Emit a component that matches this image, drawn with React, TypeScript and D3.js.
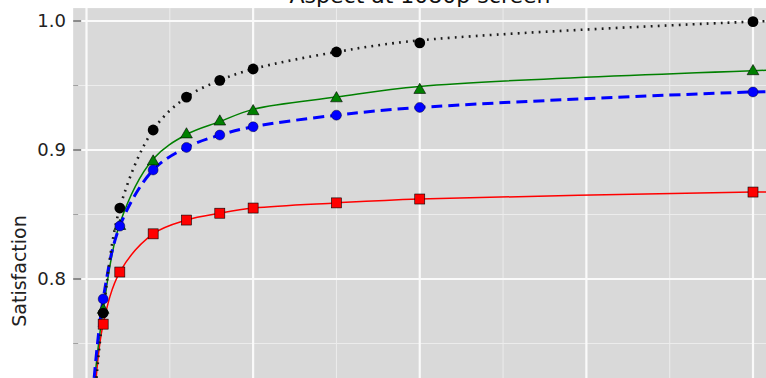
import React, { useEffect, useRef } from "react";
import * as d3 from "d3";

// sample sizes where the measurements were taken
const sizes = [50, 100, 200, 300, 400, 500, 750, 1000, 2000];

// measured satisfaction (markers)
const redValues = [0.765, 0.8054, 0.835, 0.8457, 0.851, 0.855, 0.859, 0.862, 0.8674];
const greenValues = [0.776, 0.841, 0.891, 0.912, 0.922, 0.930, 0.940, 0.9465, 0.961];
const blueValues = [0.7845, 0.841, 0.8845, 0.902, 0.9116, 0.918, 0.927, 0.933, 0.945];
const blackValues = [0.7736, 0.855, 0.9155, 0.941, 0.954, 0.9628, 0.976, 0.983, 0.9995];

// fitted curves
const redFitX = [29, 50, 100, 200, 300, 400, 500, 750, 1000, 2000, 2080];
const redFit = [0.7233, 0.765, 0.8054, 0.835, 0.8457, 0.851, 0.855, 0.859, 0.862, 0.8674, 0.8676];
const greenFitX = [25, 50, 100, 200, 300, 400, 500, 750, 1000, 2000, 2080];
const greenFit = [0.7233, 0.776, 0.843, 0.893, 0.912, 0.922, 0.9315, 0.941, 0.9493, 0.9615, 0.962];
const blueFitX = [23, 50, 100, 200, 300, 400, 500, 750, 1000, 2000, 2080];
const blueFit = [0.7233, 0.7845, 0.841, 0.8845, 0.902, 0.9116, 0.918, 0.927, 0.933, 0.945, 0.9452];
const blackFitX = [30, 50, 100, 200, 300, 400, 500, 750, 1000, 2000, 2080];
const blackFit = [0.7233, 0.7736, 0.855, 0.9155, 0.941, 0.954, 0.9628, 0.976, 0.985, 0.9995, 1.0];

const xMajor = [0, 500, 1000, 1500, 2000];
const xMinor = [250, 750, 1250, 1750];
const yMajor = [0.8, 0.9, 1.0];
const yMinor = [0.75, 0.85, 0.95];
const yTickLabels = ["0.8", "0.9", "1.0"];

const App = () => {
  const width = 766;
  const height = 378;
  const svgRef = useRef(null);

  useEffect(() => {
    const svg = d3.select(svgRef.current);
    svg.selectAll("*").remove();

    const x = d3.scaleLinear().domain([0, 2000]).range([86.5, 753]);
    const y = d3.scaleLinear().domain([0.8, 1.0]).range([279, 21]);

    const left = x(-40);
    const top = y(1.01);

    svg.append("defs")
      .append("clipPath")
      .attr("id", "plotclip")
      .append("rect")
      .attr("x", left)
      .attr("y", top)
      .attr("width", width - left + 20)
      .attr("height", height - top + 20);

    // background
    svg.append("rect")
      .attr("x", left)
      .attr("y", top)
      .attr("width", width - left + 20)
      .attr("height", height - top + 20)
      .attr("fill", "#d9d9d9");

    const grid = svg.append("g").attr("clip-path", "url(#plotclip)");
    grid.selectAll(".vminor").data(xMinor).join("line")
      .attr("x1", d => x(d)).attr("x2", d => x(d))
      .attr("y1", top).attr("y2", height + 10)
      .attr("stroke", "#ececec").attr("stroke-width", 1);
    grid.selectAll(".hminor").data(yMinor).join("line")
      .attr("y1", d => y(d)).attr("y2", d => y(d))
      .attr("x1", left).attr("x2", width + 10)
      .attr("stroke", "#ececec").attr("stroke-width", 1);
    grid.selectAll(".vmajor").data(xMajor).join("line")
      .attr("x1", d => x(d)).attr("x2", d => x(d))
      .attr("y1", top).attr("y2", height + 10)
      .attr("stroke", "#fafafa").attr("stroke-width", 2.2);
    grid.selectAll(".hmajor").data(yMajor).join("line")
      .attr("y1", d => y(d)).attr("y2", d => y(d))
      .attr("x1", left).attr("x2", width + 10)
      .attr("stroke", "#fafafa").attr("stroke-width", 2.2);

    // y ticks
    svg.selectAll(".ytick").data(yMajor).join("line")
      .attr("x1", left).attr("x2", left + 8)
      .attr("y1", d => y(d)).attr("y2", d => y(d))
      .attr("stroke", "#8a8a8a").attr("stroke-width", 2);
    svg.selectAll(".ytickminor").data(yMinor).join("line")
      .attr("x1", left).attr("x2", left + 5)
      .attr("y1", d => y(d)).attr("y2", d => y(d))
      .attr("stroke", "#a0a0a0").attr("stroke-width", 1);

    svg.selectAll(".ylabel").data(yMajor).join("text")
      .attr("x", 66)
      .attr("y", d => y(d))
      .attr("dy", "0.36em")
      .attr("text-anchor", "end")
      .style("font-family", "DejaVu Sans")
      .style("font-size", "18px")
      .attr("fill", "#222")
      .text((d, i) => yTickLabels[i]);

    svg.append("text")
      .attr("transform", "translate(26,271) rotate(-90)")
      .attr("text-anchor", "middle")
      .style("font-family", "DejaVu Sans")
      .style("font-size", "19px")
      .attr("fill", "#222")
      .text("Satisfaction");

    // title, cropped at the top edge like the original
    svg.append("text")
      .attr("x", 420)
      .attr("y", 3)
      .attr("text-anchor", "middle")
      .style("font-family", "DejaVu Sans")
      .style("font-size", "22px")
      .attr("fill", "#111")
      .text("Aspect at 1080p screen");

    const plot = svg.append("g").attr("clip-path", "url(#plotclip)");

    const line = d3.line()
      .x(d => x(d[0]))
      .y(d => y(d[1]))
      .curve(d3.curveCatmullRom.alpha(0.5));

    const fits = [
      { xs: redFitX, ys: redFit, color: "#ff0000", width: 1.5, dash: null },
      { xs: greenFitX, ys: greenFit, color: "#008000", width: 1.5, dash: null },
      { xs: blueFitX, ys: blueFit, color: "#0000ff", width: 3, dash: "11,6" },
      { xs: blackFitX, ys: blackFit, color: "#1a1a1a", width: 2.6, dash: "1.8,5.2" },
    ];

    fits.forEach(f => {
      plot.append("path")
        .datum(f.xs.map((v, i) => [v, f.ys[i]]))
        .attr("d", line)
        .attr("fill", "none")
        .attr("stroke", f.color)
        .attr("stroke-width", f.width)
        .attr("stroke-dasharray", f.dash);
    });

    // markers
    plot.selectAll(".sq").data(redValues).join("rect")
      .attr("x", (d, i) => x(sizes[i]) - 5)
      .attr("y", d => y(d) - 5)
      .attr("width", 10).attr("height", 10)
      .attr("fill", "#ff0000").attr("stroke", "#000").attr("stroke-width", 0.6);

    const tri = d3.symbol().type(d3.symbolTriangle).size(60);
    plot.selectAll(".tri").data(greenValues).join("path")
      .attr("d", tri)
      .attr("transform", (d, i) => `translate(${x(sizes[i])},${y(d)})`)
      .attr("fill", "#008000").attr("stroke", "#000").attr("stroke-width", 0.6);

    plot.selectAll(".bc").data(blueValues).join("circle")
      .attr("cx", (d, i) => x(sizes[i]))
      .attr("cy", d => y(d))
      .attr("r", 5)
      .attr("fill", "#0000ff").attr("stroke", "#000").attr("stroke-width", 0.4);

    plot.selectAll(".kc").data(blackValues).join("circle")
      .attr("cx", (d, i) => x(sizes[i]))
      .attr("cy", d => y(d))
      .attr("r", 5.4)
      .attr("fill", "#000");
  }, []);

  return (
    <svg
      ref={svgRef}
      width={width}
      height={height}
      style={{ position: "absolute", left: 0, top: 0, display: "block" }}
    ></svg>
  );
};

export default App;
